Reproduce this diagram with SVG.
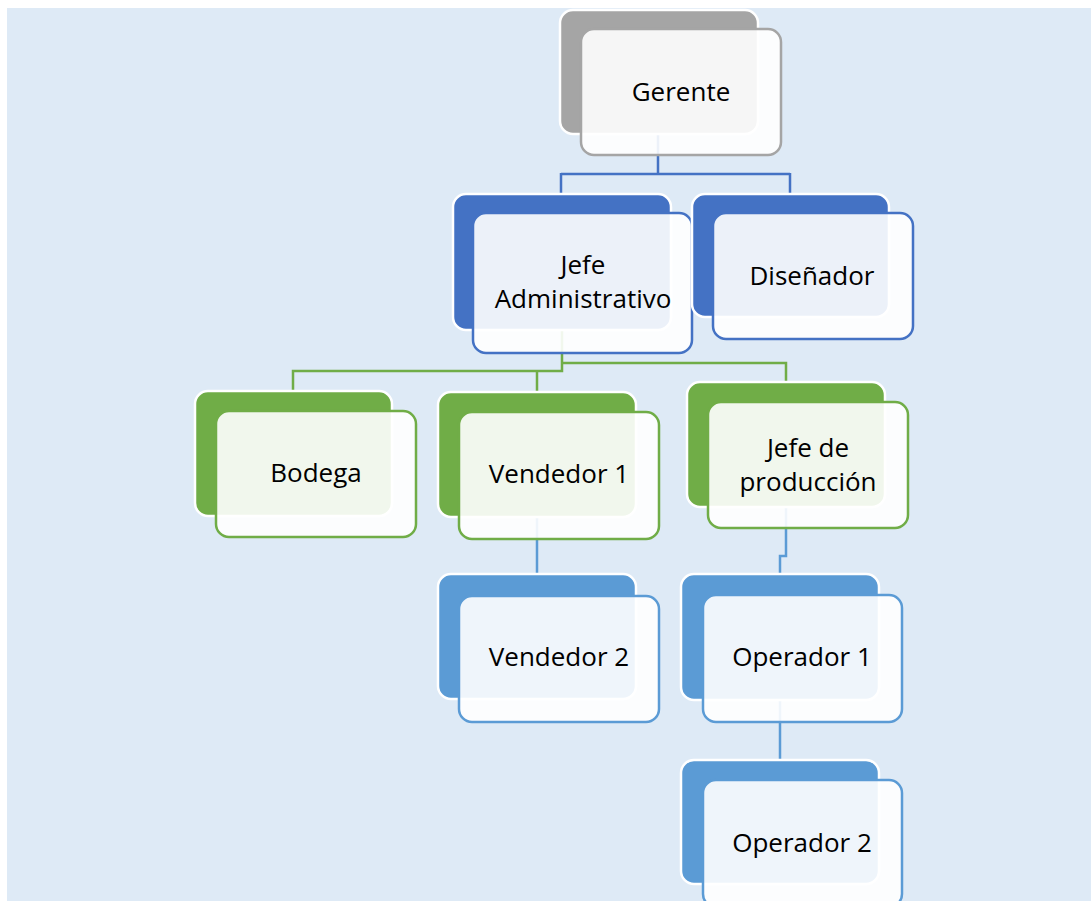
<svg xmlns="http://www.w3.org/2000/svg" width="1091" height="901" viewBox="0 0 1091 901">
<style>
.bg{fill:#deeaf6}
.back{stroke:#ffffff;stroke-width:2.5}
.front{fill:#ffffff;fill-opacity:0.9;stroke-width:2.5}
.gray .back{fill:#a5a5a5}.gray .front{stroke:#a5a5a5}
.dblue .back{fill:#4472c4}.dblue .front{stroke:#4472c4}
.green .back{fill:#70ad47}.green .front{stroke:#70ad47}
.lblue .back{fill:#5b9bd5}.lblue .front{stroke:#5b9bd5}
.lbl{font-family:"Open Sans","Noto Sans",sans-serif;font-size:26px;fill:#000;text-anchor:middle}
.c{fill:none;stroke-width:2.5}
.cb{stroke:#4472c4}.cg{stroke:#70ad47}.cl{stroke:#5b9bd5}
</style>
<rect width="1091" height="901" fill="#ffffff"/>
<rect class="bg" x="7" y="8" width="1084" height="893"/>
<g id="connectors">
<path class="c cb" d="M658,133 V174 M561,174 H790 M561,173 V194 M790,173 V194"/>
<path class="c cg" d="M562,330 V371 H293 V391 M537,371 V392 M562,363 H786 V382"/>
<path class="c cl" d="M537,517 V575"/>
<path class="c cl" d="M786,507 V556 H780 V575"/>
<path class="c cl" d="M780,700 V760"/>
</g>
<g id="gerente" class="gray">
<rect class="back" x="560" y="10" width="198" height="124" rx="13"/>
<rect class="front" x="581" y="29" width="200" height="126" rx="13"/>
<text class="lbl" x="681" y="101">Gerente</text>
</g>
<g id="jefe-administrativo" class="dblue">
<rect class="back" x="453" y="194" width="218" height="136" rx="13"/>
<rect class="front" x="473" y="213" width="219" height="140" rx="13"/>
<text class="lbl" x="583" y="274">Jefe</text>
<text class="lbl" x="583" y="308">Administrativo</text>
</g>
<g id="disenador" class="dblue">
<rect class="back" x="692" y="194" width="197" height="123" rx="13"/>
<rect class="front" x="713" y="213" width="200" height="126" rx="13"/>
<text class="lbl" x="812" y="285">Diseñador</text>
</g>
<g id="bodega" class="green">
<rect class="back" x="195" y="391" width="197" height="125" rx="13"/>
<rect class="front" x="216" y="411" width="200" height="126" rx="13"/>
<text class="lbl" x="316" y="482">Bodega</text>
</g>
<g id="vendedor-1" class="green">
<rect class="back" x="438" y="392" width="198" height="125" rx="13"/>
<rect class="front" x="459" y="412" width="200" height="127" rx="13"/>
<text class="lbl" x="559" y="483">Vendedor 1</text>
</g>
<g id="jefe-produccion" class="green">
<rect class="back" x="687" y="382" width="198" height="125" rx="13"/>
<rect class="front" x="708" y="402" width="200" height="126" rx="13"/>
<text class="lbl" x="808" y="457">Jefe de</text>
<text class="lbl" x="808" y="491">producción</text>
</g>
<g id="vendedor-2" class="lblue">
<rect class="back" x="438" y="574" width="198" height="125" rx="13"/>
<rect class="front" x="459" y="596" width="200" height="126" rx="13"/>
<text class="lbl" x="559" y="666">Vendedor 2</text>
</g>
<g id="operador-1" class="lblue">
<rect class="back" x="681" y="574" width="198" height="126" rx="13"/>
<rect class="front" x="703" y="595" width="199" height="127" rx="13"/>
<text class="lbl" x="802" y="666">Operador 1</text>
</g>
<g id="operador-2" class="lblue">
<rect class="back" x="681" y="760" width="198" height="124" rx="13"/>
<rect class="front" x="703" y="780" width="199" height="127" rx="13"/>
<text class="lbl" x="802" y="852">Operador 2</text>
</g>
</svg>
